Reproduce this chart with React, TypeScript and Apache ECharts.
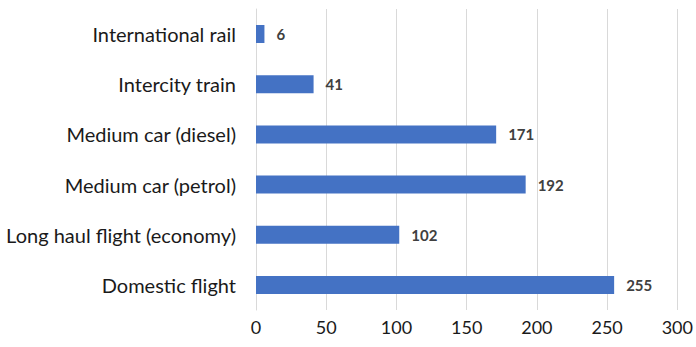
import React, { useEffect, useRef } from "react";
import * as echarts from "echarts";

const categories = [
  "Domestic flight",
  "Long haul flight (economy)",
  "Medium car (petrol)",
  "Medium car (diesel)",
  "Intercity train",
  "International rail",
];
const values = [255, 102, 192, 171, 41, 6];

export default function App() {
  const ref = useRef<HTMLDivElement>(null);
  useEffect(() => {
    const chart = echarts.init(ref.current!, null, { renderer: "svg" });
    chart.setOption({
      animation: false,
      grid: { left: 256, right: 17, top: 9, bottom: 37 },
      xAxis: {
        type: "value",
        min: 0,
        max: 300,
        interval: 50,
        axisLine: { show: false },
        axisTick: { show: false },
        splitLine: { lineStyle: { color: "#d9d9d9", width: 1 } },
        axisLabel: { color: "#1a1a1a", fontSize: 18, fontFamily: "Lato", margin: 8 },
      },
      yAxis: {
        type: "category",
        data: categories,
        axisLine: { lineStyle: { color: "#d9d9d9" } },
        axisTick: { show: false },
        axisLabel: { color: "#1a1a1a", fontSize: 20, fontFamily: "Lato", margin: 20 },
      },
      series: [
        {
          type: "bar",
          data: values,
          barWidth: 18,
          itemStyle: { color: "#4472C4" },
          label: {
            show: true,
            position: "right",
            distance: 12,
            color: "#404040",
            fontWeight: "bold",
            fontSize: 15,
            fontFamily: "Lato",
          },
        },
      ],
    });
    return () => chart.dispose();
  }, []);
  return <div ref={ref} style={{ width: 696, height: 347, position: "absolute", left: 0, top: 0 }} />;
}
